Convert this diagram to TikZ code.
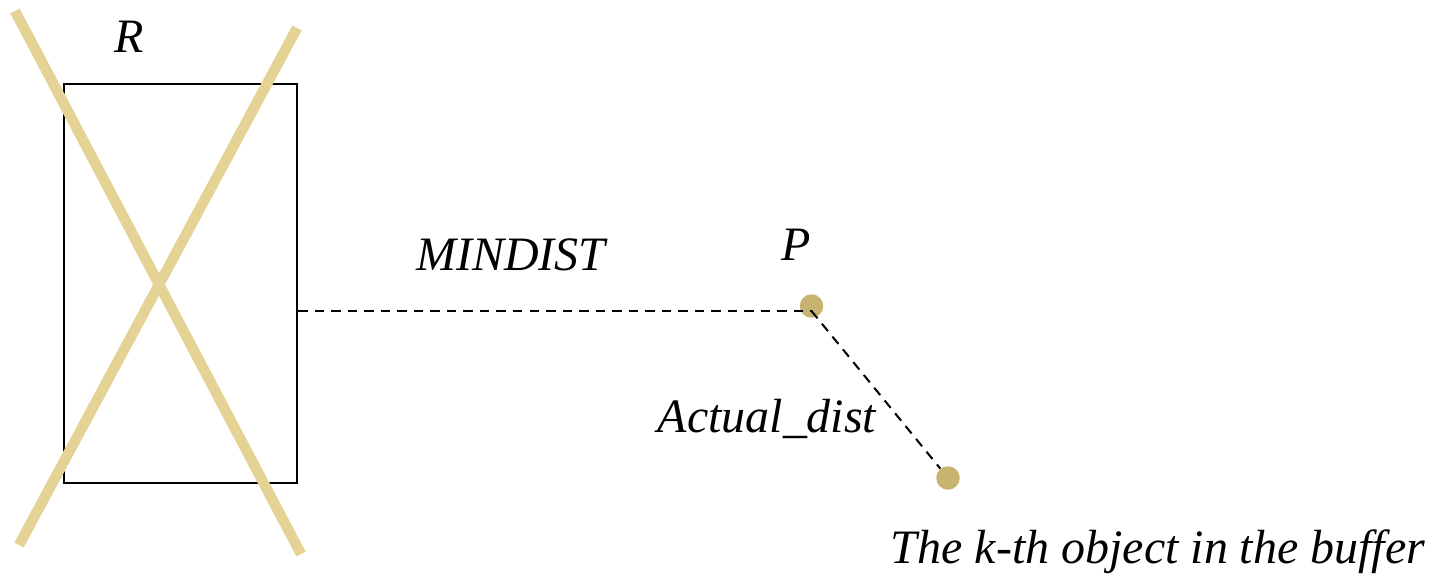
\documentclass[tikz,border=0pt]{standalone}
\usepackage{fontspec}
\setmainfont{Liberation Serif}
\usetikzlibrary{positioning,calc}
\usepackage{xcolor}
\definecolor{crosstan}{RGB}{229,211,150}
\definecolor{dottan}{RGB}{201,179,112}

\tikzset{
    lbl/.style={anchor=base,inner sep=0pt,font=\fontsize{27.3}{32}\selectfont\itshape},
    objdot/.style={circle,fill=dottan,inner sep=0pt,minimum size=0.47cm},
    distline/.style={dashed,dash pattern=on 5.4pt off 4pt,line width=1.15pt},
    crossline/.style={crosstan,line width=6pt}
}

\begin{document}
\begin{tikzpicture}[x=0.02cm,y=-0.02cm]
    \useasboundingbox (0,0) rectangle (1435,579);

    \node[draw,line width=1.5pt,minimum width=4.66cm,minimum height=7.98cm,inner sep=0pt] (rect) at (180.5,283.5) {};
    \draw[crossline] (15,11) -- (301,554);
    \draw[crossline] (297,28) -- (19,545);
    \node[lbl] (rlabel) at (129,52) {R};

    \node[objdot] (p) at (811.5,306) {};
    \node[objdot] (kth) at (948,478) {};
    \node[lbl] (plabel) at (796,260) {P};

    \coordinate (pfoot) at ($(p.center)+(0,5)$);
    \draw[distline] (rect.east |- pfoot) -- (pfoot);
    \draw[distline] (pfoot) -- (kth);

    \node[lbl] (mindist) at (511,270) {MINDIST};
    \node[lbl] (actual) at (767,432) {Actual\_dist};
    \node[lbl] (kthlabel) at (1158,563) {The k-th object in the buffer};
\end{tikzpicture}
\end{document}
